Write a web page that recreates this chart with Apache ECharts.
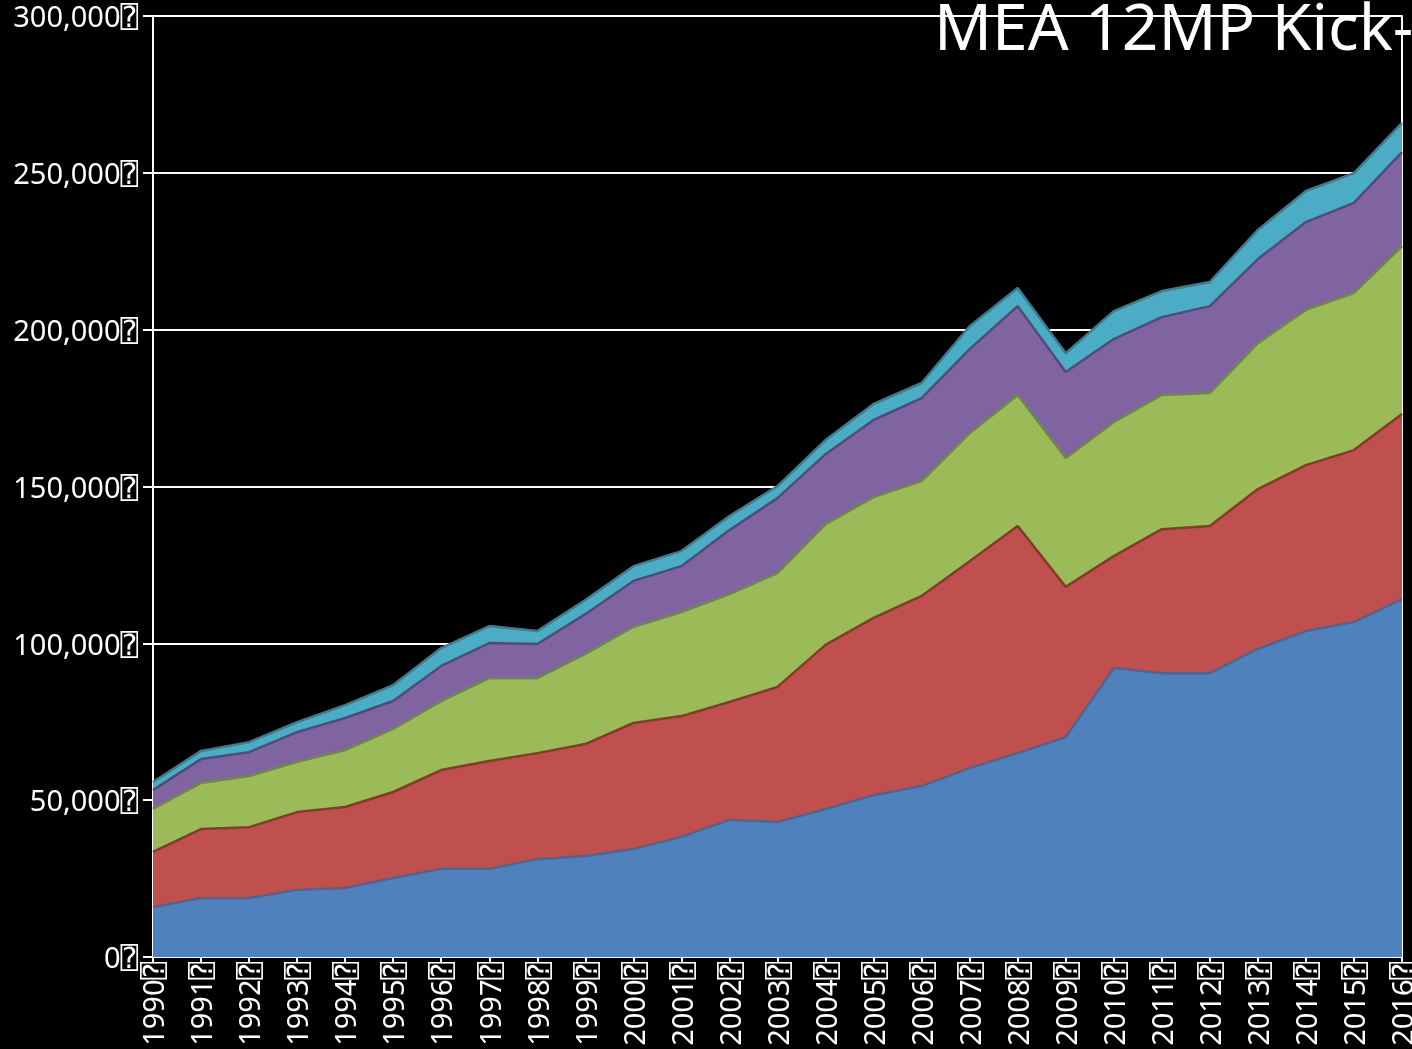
<!DOCTYPE html>
<html>
<head>
<meta charset="utf-8">
<style>
  html, body { margin: 0; padding: 0; background: #000; }
  #chart { width: 1412px; height: 1049px; }
</style>
<script src="https://cdn.jsdelivr.net/npm/echarts@6/dist/echarts.min.js"></script>
</head>
<body>
<div id="chart"></div>
<script>
// years on the x axis
var years = ["1990", "1991", "1992", "1993", "1994", "1995", "1996", "1997", "1998",
  "1999", "2000", "2001", "2002", "2003", "2004", "2005", "2006", "2007", "2008",
  "2009", "2010", "2011", "2012", "2013", "2014", "2015", "2016"];

// stacked layers, bottom to top
var blueVals = [15900, 18800, 18800, 21400, 22000, 25200, 28100, 28100, 31200, 32200, 34400,
  38300, 43700, 43000, 47200, 51600, 54500, 60200, 65000, 70100, 92100, 90500, 90500,
  98200, 103900, 106800, 114100];
var redVals = [17600, 22000, 22600, 24800, 25800, 27400, 31500, 34400, 33800, 35700, 40200,
  38500, 37600, 43100, 52300, 56500, 60600, 66000, 72400, 47900, 35700, 45900, 46900,
  51000, 52900, 54800, 59000];
var greenVals = [13700, 14700, 16300, 16000, 18200, 20100, 22000, 26400, 23900, 28700, 30600,
  33200, 34400, 36300, 38500, 38500, 36600, 40800, 41800, 41100, 42700, 42800, 42400,
  46500, 49500, 50100, 53500];
var purpleVals = [6000, 7600, 7600, 9500, 10200, 8900, 11200, 11200, 10900, 12700, 14700,
  14600, 20400, 23900, 22300, 24600, 26500, 26800, 28300, 27400, 26500, 24800, 27700,
  26800, 28000, 28700, 30000];
var cyanVals = [2600, 2600, 3200, 3200, 4100, 5100, 5700, 5400, 4100, 4500, 4700,
  4800, 4500, 3800, 4500, 5100, 4800, 7300, 5800, 6000, 8900, 8300, 7700,
  9300, 9900, 9500, 9300];

var yMin = 0, yMax = 300000, yStep = 50000;
var titleText = "MEA 12MP Kick-off";
var tofu = "\u2370";
var labelFont = "'Noto Sans', 'DejaVu Sans Mono', 'DejaVu Sans', sans-serif";

var chart = echarts.init(document.getElementById("chart"));

function layer(name, data, fill, edge) {
  return {
    name: name,
    type: "line",
    stack: "total",
    data: data,
    symbol: "none",
    silent: true,
    animation: false,
    lineStyle: { color: edge, width: 2.5 },
    areaStyle: { color: fill, opacity: 1 },
    z: 2
  };
}

var option = {
  backgroundColor: "#000",
  animation: false,
  title: {
    text: titleText,
    left: 934,
    top: 0,
    padding: 0,
    textStyle: {
      color: "#fff",
      fontSize: 64,
      fontWeight: "normal",
      fontFamily: "Noto Sans"
    }
  },
  grid: {
    left: 153, right: 10, top: 16, bottom: 92,
    containLabel: false,
    outerBoundsMode: "none"
  },
  xAxis: {
    type: "category",
    data: years,
    boundaryGap: false,
    axisLine: { show: true, lineStyle: { color: "#fff", width: 2 } },
    axisTick: { show: true, length: 5, alignWithLabel: true, lineStyle: { color: "#fff", width: 2 } },
    axisLabel: {
      color: "#fff",
      fontSize: 29,
      fontFamily: labelFont,
      rotate: 90,
      margin: 5,
      interval: 0,
      hideOverlap: false,
      verticalAlign: "top",
      lineHeight: 6,
      formatter: function (v) { return v + tofu; }
    },
    splitLine: { show: false }
  },
  yAxis: [
    {
      type: "value",
      min: yMin,
      max: yMax,
      interval: yStep,
      axisLine: { show: true, lineStyle: { color: "#fff", width: 2 } },
      axisTick: { show: true, length: 10, lineStyle: { color: "#fff", width: 2 } },
      axisLabel: {
        color: "#fff",
        fontSize: 29,
        fontFamily: labelFont,
        margin: 15,
        verticalAlign: "top",
        lineHeight: 6,
        formatter: function (v) { return v.toLocaleString("en-US") + tofu; }
      },
      splitLine: { show: true, lineStyle: { color: "#fff", width: 2 } }
    },
    {
      type: "value",
      position: "right",
      min: yMin,
      max: yMax,
      interval: yStep,
      axisLine: { show: true, lineStyle: { color: "#fff", width: 2 } },
      axisTick: { show: false },
      axisLabel: { show: false },
      splitLine: { show: false }
    }
  ],
  series: [
    layer("Series 1", blueVals, "#4F81BD", "#3F6A9C"),
    layer("Series 2", redVals, "#C0504D", "#8E3432"),
    layer("Series 3", greenVals, "#9BBB59", "#6E8B3D"),
    layer("Series 4", purpleVals, "#8064A2", "#5C4676"),
    layer("Series 5", cyanVals, "#4BACC6", "#357F93")
  ]
};

chart.setOption(option);
window.onresize = function () {
  chart.resize();
};
</script>
</body>
</html>
